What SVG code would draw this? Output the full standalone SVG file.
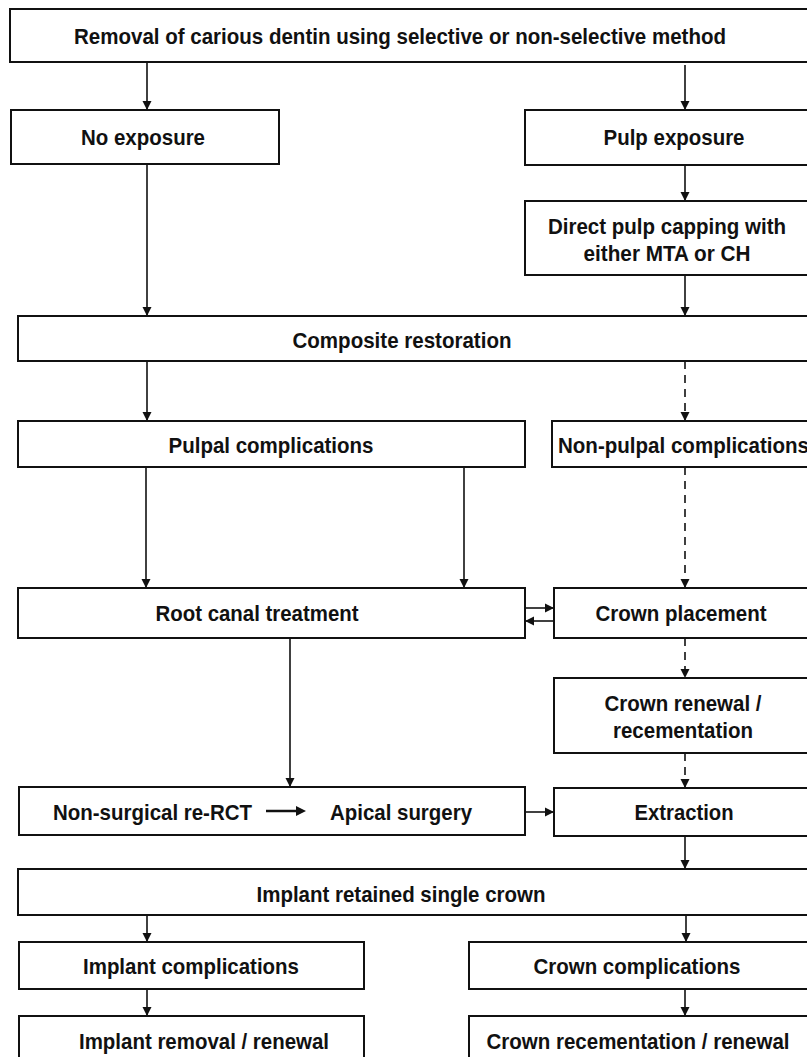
<svg xmlns="http://www.w3.org/2000/svg" width="807" height="1057" viewBox="0 0 807 1057">
<defs>
<style>
.box{fill:#fff;stroke:#111;stroke-width:2}
.t{font-family:"Liberation Sans",Arial,sans-serif;font-weight:bold;font-size:22px;fill:#111;text-anchor:middle}
.s{text-anchor:start}
.c{fill:none;stroke:#111;stroke-width:1.6}
.d{fill:none;stroke:#111;stroke-width:1.6;stroke-dasharray:8 6}
</style>
<marker id="ah" viewBox="0 0 10 10" refX="10" refY="5" markerWidth="9" markerHeight="11" markerUnits="userSpaceOnUse" orient="auto">
<path d="M0,0 L10,5 L0,10 z" fill="#111"/>
</marker>
</defs>
<rect width="807" height="1057" fill="#fff"/>

<g id="connectors">
<path class="c" d="M147,62 V110" marker-end="url(#ah)"/>
<path class="c" d="M685,65 V110" marker-end="url(#ah)"/>
<path class="c" d="M147,164 V316" marker-end="url(#ah)"/>
<path class="c" d="M685,165 V201" marker-end="url(#ah)"/>
<path class="c" d="M685,275 V316" marker-end="url(#ah)"/>
<path class="c" d="M147,361 V421" marker-end="url(#ah)"/>
<path class="d" d="M685,361 V421" marker-end="url(#ah)"/>
<path class="c" d="M146,467 V588" marker-end="url(#ah)"/>
<path class="c" d="M464,467 V588" marker-end="url(#ah)"/>
<path class="d" d="M685,467 V588" marker-end="url(#ah)"/>
<path class="c" d="M525,608 H554" stroke-width="2.5" marker-end="url(#ah)"/>
<path class="c" d="M554,621 H525" stroke-width="2.5" marker-end="url(#ah)"/>
<path class="d" d="M685,638 V678" marker-end="url(#ah)"/>
<path class="c" d="M290,638 V787" marker-end="url(#ah)"/>
<path class="d" d="M685,753 V788" marker-end="url(#ah)"/>
<path class="c" d="M525,812 H554" stroke-width="2.5" marker-end="url(#ah)"/>
<path class="c" d="M685,836 V869" marker-end="url(#ah)"/>
<path class="c" d="M147,915 V942" marker-end="url(#ah)"/>
<path class="c" d="M686,915 V942" marker-end="url(#ah)"/>
<path class="c" d="M147,989 V1016" marker-end="url(#ah)"/>
<path class="c" d="M685,989 V1016" marker-end="url(#ah)"/>
</g>

<g id="n-removal">
<rect class="box" x="10" y="9" width="820" height="53"/>
<text class="t" x="400" y="44" textLength="652" lengthAdjust="spacingAndGlyphs">Removal of carious dentin using selective or non-selective method</text>
</g>
<g id="n-noexposure">
<rect class="box" x="11" y="110" width="268" height="54"/>
<text class="t" x="143" y="145" textLength="124" lengthAdjust="spacingAndGlyphs">No exposure</text>
</g>
<g id="n-pulpexposure">
<rect class="box" x="525" y="110" width="300" height="55"/>
<text class="t" x="674" y="145" textLength="141" lengthAdjust="spacingAndGlyphs">Pulp exposure</text>
</g>
<g id="n-capping">
<rect class="box" x="525" y="201" width="300" height="74"/>
<text class="t" x="667" y="234" textLength="238" lengthAdjust="spacingAndGlyphs">Direct pulp capping with</text>
<text class="t" x="667" y="261" textLength="167" lengthAdjust="spacingAndGlyphs">either MTA or CH</text>
</g>
<g id="n-composite">
<rect class="box" x="18" y="316" width="810" height="45"/>
<text class="t" x="402" y="348" textLength="219" lengthAdjust="spacingAndGlyphs">Composite restoration</text>
</g>
<g id="n-pulpal">
<rect class="box" x="18" y="421" width="507" height="46"/>
<text class="t" x="271" y="453" textLength="205" lengthAdjust="spacingAndGlyphs">Pulpal complications</text>
</g>
<g id="n-nonpulpal">
<rect class="box" x="552" y="421" width="280" height="46"/>
<text class="t s" x="558" y="453" textLength="251" lengthAdjust="spacingAndGlyphs">Non-pulpal complications</text>
</g>
<g id="n-rct">
<rect class="box" x="18" y="588" width="507" height="50"/>
<text class="t" x="257" y="621" textLength="203" lengthAdjust="spacingAndGlyphs">Root canal treatment</text>
</g>
<g id="n-crownplacement">
<rect class="box" x="554" y="588" width="280" height="50"/>
<text class="t" x="681" y="621" textLength="171" lengthAdjust="spacingAndGlyphs">Crown placement</text>
</g>
<g id="n-crownrenewal">
<rect class="box" x="554" y="678" width="280" height="75"/>
<text class="t" x="683" y="711" textLength="157" lengthAdjust="spacingAndGlyphs">Crown renewal /</text>
<text class="t" x="683" y="738" textLength="140" lengthAdjust="spacingAndGlyphs">recementation</text>
</g>
<g id="n-rerct">
<rect class="box" x="19" y="787" width="506" height="48"/>
<text class="t s" x="53" y="820" textLength="199" lengthAdjust="spacingAndGlyphs">Non-surgical re-RCT</text>
<path d="M266,811 H297" stroke="#111" stroke-width="2.5"/>
<path d="M296,806 L306,811 L296,816 z" fill="#111"/>
<text class="t s" x="330" y="820" textLength="142" lengthAdjust="spacingAndGlyphs">Apical surgery</text>
</g>
<g id="n-extraction">
<rect class="box" x="554" y="788" width="280" height="48"/>
<text class="t" x="684" y="820" textLength="99" lengthAdjust="spacingAndGlyphs">Extraction</text>
</g>
<g id="n-implant">
<rect class="box" x="18" y="869" width="810" height="46"/>
<text class="t" x="401" y="902" textLength="289" lengthAdjust="spacingAndGlyphs">Implant retained single crown</text>
</g>
<g id="n-implantcomp">
<rect class="box" x="19" y="942" width="345" height="47"/>
<text class="t" x="191" y="974" textLength="216" lengthAdjust="spacingAndGlyphs">Implant complications</text>
</g>
<g id="n-crowncomp">
<rect class="box" x="469" y="942" width="360" height="47"/>
<text class="t" x="637" y="974" textLength="207" lengthAdjust="spacingAndGlyphs">Crown complications</text>
</g>
<g id="n-implantremoval">
<rect class="box" x="19" y="1016" width="345" height="60"/>
<text class="t" x="204" y="1049" textLength="250" lengthAdjust="spacingAndGlyphs">Implant removal / renewal</text>
</g>
<g id="n-crownrecem">
<rect class="box" x="469" y="1016" width="360" height="60"/>
<text class="t" x="638" y="1049" textLength="303" lengthAdjust="spacingAndGlyphs">Crown recementation / renewal</text>
</g>
</svg>
